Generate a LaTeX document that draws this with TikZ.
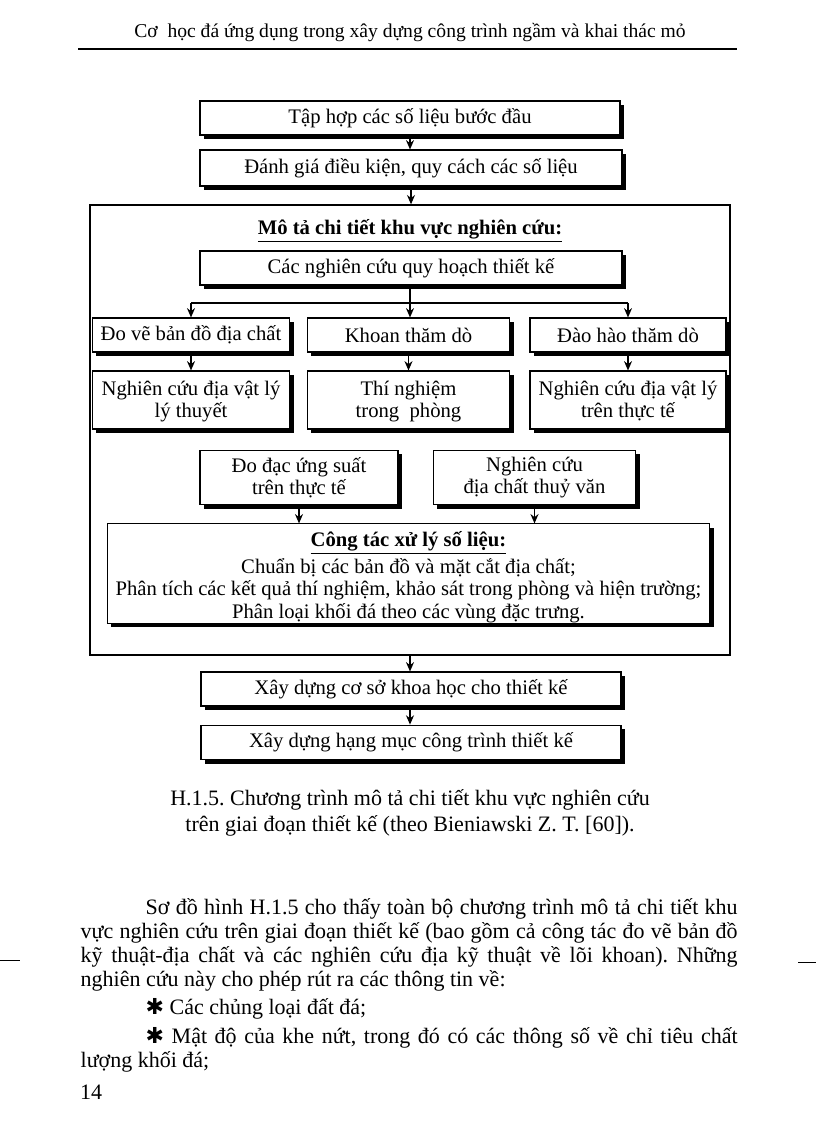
\documentclass[tikz,border=0pt]{standalone}
\usepackage{fontspec}
\setmainfont{Liberation Serif}
\newfontfamily\symfont{DejaVu Sans}
\usetikzlibrary{shadows,arrows.meta}
\frenchspacing
\begin{document}
\begin{tikzpicture}[>={Stealth[length=7pt,width=6pt]}, x=0.75pt, y=-0.75pt, line width=1pt]
\tikzstyle{box}=[draw,line width=0.8pt,fill=white,align=center,inner sep=0pt,font=\fontsize{15.5}{16.5}\selectfont,
  drop shadow={shadow xshift=3pt,shadow yshift=-3pt,fill=black,opacity=1}]
\tikzstyle{txt}=[inner sep=0pt,font=\fontsize{16.5}{18}\selectfont]
\useasboundingbox (0,0) rectangle (816,1123);
% header
\node[txt,font=\fontsize{14.7}{16}\selectfont](hd) at (410,33) {Cơ\ \ học đá ứng dụng trong xây dựng công trình ngầm và khai thác mỏ};
\draw[line width=0.8pt] (78,49) -- (737,49);
% flow chart
\node[draw,line width=1pt,minimum width=480pt,minimum height=337.5pt](fr) at (410,430) {};
\node[box,minimum width=315pt,minimum height=25.5pt](b1) at (410,118) {Tập hợp các số liệu bước đầu};
\node[box,minimum width=316.5pt,minimum height=27pt](b2) at (411,168) {Đánh giá điều kiện, quy cách các số liệu};
\node[txt,font=\fontsize{15.5}{17}\selectfont](m1) at (410,231) {\underline{\textbf{Mô tả chi tiết khu vực nghiên cứu:}}};
\node[box,minimum width=316.5pt,minimum height=25.5pt](b3) at (411,268) {Các nghiên cứu quy hoạch thiết kế};
\coordinate (j) at (410,303);
\node[box,minimum width=148pt,minimum height=25.5pt](r1) at (191,335) {Đo vẽ bản đồ địa chất};
\node[box,minimum width=152pt,minimum height=25.5pt](r2) at (408.5,335) {Khoan thăm dò};
\node[box,minimum width=147pt,minimum height=25.5pt](r3) at (628,335) {Đào hào thăm dò};
\node[box,minimum width=148pt,minimum height=43.5pt](s1) at (191,400) {\rule{0pt}{13pt}Nghiên cứu địa vật lý\\lý thuyết};
\node[box,minimum width=152pt,minimum height=43.5pt](s2) at (408.5,400) {\rule{0pt}{13pt}Thí nghiệm\\trong\ \ phòng};
\node[box,minimum width=147pt,minimum height=43.5pt](s3) at (628,400) {\rule{0pt}{13pt}Nghiên cứu địa vật lý\\trên thực tế};
\node[box,minimum width=148.5pt,minimum height=41pt](t1) at (299,477.5) {Đo đạc ứng suất\\trên thực tế};
\node[box,minimum width=152pt,minimum height=41pt](t2) at (534.5,477.5) {Nghiên cứu\\địa chất thuỷ văn};
\node[box,minimum width=452pt,minimum height=73pt,font=\fontsize{15.5}{17}\selectfont](pr) at (408.5,573.5)
  {\rule{0pt}{17pt}\underline{\textbf{Công tác xử lý số liệu:}}\\[3pt]Chuẩn bị các bản đồ và mặt cắt địa chất;\\Phân tích các kết quả thí nghiệm, khảo sát trong phòng và hiện trường;\\Phân loại khối đá theo các vùng đặc trưng.};
\node[box,minimum width=315pt,minimum height=25.5pt](b5) at (411,689) {Xây dựng cơ sở khoa học cho thiết kế};
\node[box,minimum width=315pt,minimum height=26pt](b6) at (411,742.5) {Xây dựng hạng mục công trình thiết kế};
\draw[->] (b1.south) -- (b1.south |- b2.north);
\draw[->] (b2.south) -- (b2.south |- fr.north);
\draw (b3.south -| j) -- (j);
\draw (r1.north |- j) -- (r3.north |- j);
\draw[->] (r1.north |- j) -- (r1.north);
\draw[->] (j) -- (j |- r2.north);
\draw[->] (r3.north |- j) -- (r3.north);
\draw[->] (r1.south) -- (s1.north);
\draw[->] (r2.south) -- (s2.north);
\draw[->] (r3.south) -- (s3.north);
\draw[->] (t1.south) -- (t1.south |- pr.north);
\draw[->] (t2.south) -- (t2.south |- pr.north);
\draw[->] (fr.south) -- (fr.south |- b5.north);
\draw[->] (b5.south -| fr.south) -- (fr.south |- b6.north);
% caption
\node[txt,align=center,font=\fontsize{16.5}{19}\selectfont](cp) at (410,813) {H.1.5. Chương trình mô tả chi tiết khu vực nghiên cứu\\trên giai đoạn thiết kế (theo Bieniawski Z. T. [60]).};
% text
\node[txt,anchor=north west,text width=492.75pt,align=justify](p1) at (80,898)
  {\hspace*{48.75pt}Sơ đồ hình H.1.5 cho thấy toàn bộ chương trình mô tả chi tiết khu\linebreak
   vực nghiên cứu trên giai đoạn thiết kế (bao gồm cả công tác đo vẽ bản đồ\linebreak
   kỹ thuật-địa chất và các nghiên cứu địa kỹ thuật về lõi khoan). Những\linebreak
   nghiên cứu này cho phép rút ra các thông tin về:};
\node[txt,anchor=north west,text width=492.75pt,align=justify](p2) at (80,998)
  {\hspace*{48.75pt}{\symfont ✱} Các chủng loại đất đá;};
\node[txt,anchor=north west,text width=492.75pt,align=justify](p3) at (80,1027)
  {\hspace*{48.75pt}{\symfont ✱} Mật độ của khe nứt, trong đó có các thông số về chỉ tiêu chất\linebreak
   lượng khối đá;};
\node[txt](pg) at (91,1092) {14};
\draw[line width=0.5pt] (0,960) -- (20,960);
\draw[line width=0.5pt] (798,962) -- (816,962);
\end{tikzpicture}
\end{document}
